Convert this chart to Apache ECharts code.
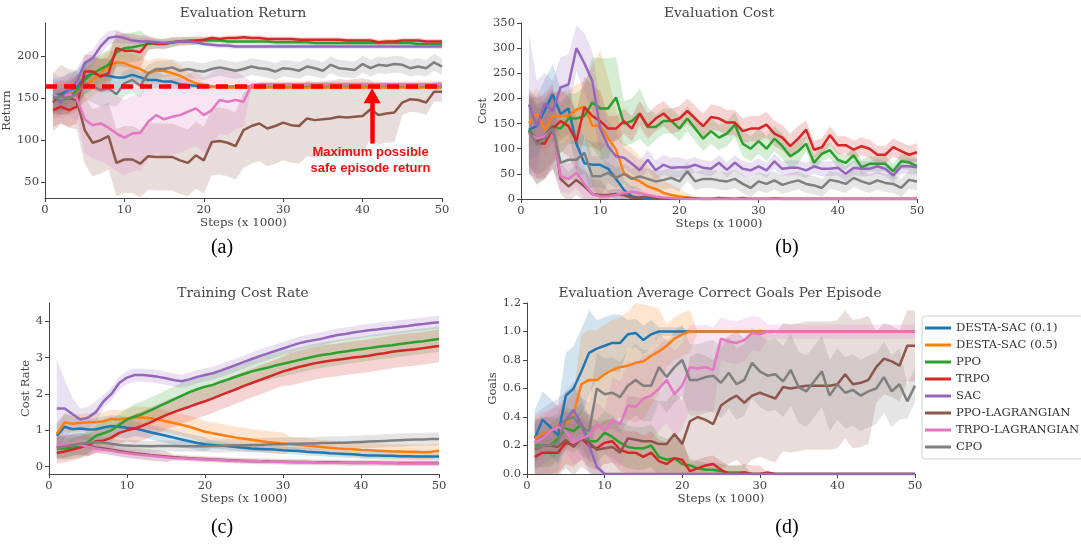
<!DOCTYPE html>
<html>
<head>
<meta charset="utf-8">
<script src="https://cdn.jsdelivr.net/npm/echarts@6.0.0/dist/echarts.min.js"></script>
<style>
  html, body { margin: 0; padding: 0; background: #fff; }
  #vis { width: 1081px; height: 544px; }
</style>
</head>
<body>
<div id="vis"></div>
<script>
// x values (steps x 1000)
const steps = [1,2,3,4,5,6,7,8,9,10,11,12,13,14,15,16,17,18,19,20,21,22,23,24,25,26,27,28,29,30,
  31,32,33,34,35,36,37,38,39,40,41,42,43,44,45,46,47,48,49,50];

const algoNames = ['DESTA-SAC (0.1)', 'DESTA-SAC (0.5)', 'PPO', 'TRPO', 'SAC', 'PPO-LAGRANGIAN', 'TRPO-LAGRANGIAN', 'CPO'];

// ---- (a) Evaluation Return ----
const returnDesta01 = [153,155,160,163,175,180,178,177,175,175, 178,175,172,172,170,170,167,166,165,164,
  164,164,164,164,164,164,164,164,164,164, 164,164,164,164,164,164,164,164,164,164, 164,164,164,164,164,164,164,164,164,164];
const returnDesta05 = [145,150,152,158,165,172,180,188,193,192, 188,185,180,183,183,180,177,172,168,166,
  164,163,163,163,163,163,163,163,163,163, 163,163,163,163,163,163,163,163,163,163, 163,163,163,163,163,163,163,163,163,163];
const returnPpo = [150,148,150,160,172,180,185,190,205,210, 211,213,215,216,215,217,218,219,219,219,
  219,219,218,218,218,218,218,218,217,217, 217,217,217,216,216,216,216,216,216,216, 216,216,216,216,216,216,215,215,215,215];
const returnTrpo = [136,140,136,140,182,182,176,180,210,207, 207,205,217,215,215,217,218,218,219,220,
  222,221,222,222,223,222,222,221,221,221, 221,220,220,220,220,220,220,219,219,219, 219,217,218,218,219,219,219,218,218,218];
const returnSac = [150,145,160,170,192,198,212,222,224,222, 219,218,218,217,216,217,218,218,217,215,
  214,213,213,212,212,212,212,212,212,212, 212,212,212,212,212,212,212,212,212,212, 212,212,212,212,212,212,212,212,212,212];
const returnPpoLag = [145,155,150,148,112,97,100,105,73,77, 77,72,81,80,80,80,76,73,82,76,
  98,99,97,93,112,117,120,114,117,121, 118,117,126,124,125,126,128,127,128,129, 137,130,132,133,145,149,148,145,158,158];
const returnTrpoLag = [155,150,155,150,125,118,120,115,108,103, 108,109,122,130,125,128,130,134,138,130,
  136,148,146,148,146,166,167,167,167,167, 167,167,167,167,167,167,167,167,167,167, 167,167,167,167,167,167,167,167,167,167];
const returnCpo = [150,152,150,155,168,165,160,162,155,168, 172,165,180,185,185,187,183,185,183,182,
  185,187,185,183,185,188,186,185,182,186, 185,183,188,186,183,190,186,185,184,191, 186,190,189,191,190,186,188,186,193,188];

const returnDesta01Std = [20,20,20,20,20,20,20,20,15,15, 10,10,10,10,8,8,6,4,3,2,
  2,2,2,2,2,2,2,2,2,2, 2,2,2,2,2,2,2,2,2,2, 2,2,2,2,2,2,2,2,2,2];
const returnDesta05Std = [20,20,20,20,20,20,20,18,15,15, 15,15,15,15,15,15,12,10,6,4,
  2,2,2,2,2,2,2,2,2,2, 2,2,2,2,2,2,2,2,2,2, 2,2,2,2,2,2,2,2,2,2];
const returnPpoStd = [18,18,18,18,18,18,18,18,18,18, 18,18,8,6,6,6,5,5,5,4,
  3,3,3,3,3,3,3,3,3,3, 3,3,3,3,3,3,3,3,3,3, 3,3,3,3,3,3,3,3,3,3];
const returnTrpoStd = [20,20,20,20,20,20,20,20,20,20, 20,20,8,6,6,6,5,5,5,4,
  3,3,3,3,3,3,3,3,3,3, 3,3,3,3,3,3,3,3,3,3, 3,3,3,3,3,3,3,3,3,3];
const returnSacStd = [15,15,15,15,10,10,10,8,8,6, 4,4,4,3,3,3,3,3,3,3,
  3,3,3,3,3,3,3,3,3,3, 3,3,3,3,3,3,3,3,3,3, 3,3,3,3,3,3,3,3,3,3];
const returnPpoLagStd = [35,35,35,35,40,40,40,40,40,40, 40,40,40,40,40,40,40,40,40,40,
  40,40,40,40,45,45,45,45,45,45, 45,45,45,45,45,45,45,45,45,45, 35,35,35,35,15,15,15,15,12,12];
const returnTrpoLagStd = [25,25,25,25,40,40,45,45,45,45, 45,45,45,45,45,45,45,45,45,45,
  45,40,40,35,30,4,3,3,3,3, 3,3,3,3,3,3,3,3,3,3, 3,3,3,3,3,3,3,3,3,3];
const returnCpoStd = [20,20,20,20,20,20,20,20,15,15, 15,15,10,10,10,10,10,10,10,10,
  10,10,10,10,10,10,10,10,10,10, 10,10,10,10,10,10,10,10,10,10, 10,10,10,10,10,10,10,10,10,10];

// ---- (b) Evaluation Cost ----
const costDesta01 = [138,145,177,208,169,180,110,71,68,68, 60,40,18,5,2,0,0,0,0,0,
  0,0,0,0,0,0,0,0,0,0, 0,0,0,0,0,0,0,0,0,0, 0,0,0,0,0,0,0,0,0,0];
const costDesta05 = [151,170,138,165,165,165,178,183,146,145, 121,98,51,42,35,25,20,12,8,5,
  3,1,0,0,0,0,0,0,0,0, 0,0,0,0,0,0,0,0,0,0, 0,0,0,0,0,0,0,0,0,0];
const costPpo = [138,118,125,145,140,160,160,165,192,180, 180,202,150,155,170,143,143,155,155,140,
  160,140,120,135,122,130,148,110,100,115, 100,120,105,85,95,110,72,90,97,78, 72,87,63,70,70,70,55,75,73,65];
const costTrpo = [135,112,110,140,155,145,115,183,165,155, 140,140,155,140,170,145,160,170,155,160,
  175,160,145,163,160,152,152,135,140,140, 148,130,122,105,120,138,98,103,127,107, 107,98,105,100,88,88,103,95,88,93];
const costSac = [188,145,190,175,222,228,300,270,235,140, 105,85,82,70,57,78,57,68,62,63,
  63,68,62,60,72,58,72,60,57,65, 57,75,60,62,62,57,65,60,60,62, 50,62,60,60,65,60,47,65,65,63];
const costPpoLag = [135,115,125,145,40,25,38,25,10,8, 8,10,8,2,3,5,2,1,0,0,
  2,1,0,0,2,1,0,2,0,0, 0,1,0,0,0,0,0,0,0,0, 0,0,0,0,0,0,0,0,0,0];
const costTrpoLag = [130,120,125,140,45,40,52,30,10,5, 5,8,12,15,12,8,5,3,2,1,
  0,0,0,0,0,0,0,0,0,0, 0,0,0,0,0,0,0,0,0,0, 0,0,0,0,0,0,0,0,0,0];
const costCpo = [135,108,120,140,72,78,78,92,45,45, 52,42,50,40,45,40,35,38,42,35,
  55,35,40,40,37,35,40,30,22,35, 30,37,28,33,37,30,27,22,38,35, 30,42,35,30,37,32,30,22,38,35];

const costDesta01Std = [60,60,60,60,50,50,50,50,45,45, 45,45,20,20,20,5,5,5,0,0,
  0,0,0,0,0,0,0,0,0,0, 0,0,0,0,0,0,0,0,0,0, 0,0,0,0,0,0,0,0,0,0];
const costDesta05Std = [50,50,50,50,50,50,50,50,120,150, 120,80,60,60,50,40,30,25,20,15,
  8,5,0,0,0,0,0,0,0,0, 0,0,0,0,0,0,0,0,0,0, 0,0,0,0,0,0,0,0,0,0];
const costPpoStd = [70,70,70,70,50,50,50,60,90,100, 100,80,45,45,50,40,25,25,25,25,
  25,25,25,25,25,25,25,25,25,25, 25,25,25,25,25,15,15,15,15,15, 15,15,15,15,15,15,15,15,15,15];
const costTrpoStd = [70,70,70,70,60,60,60,60,60,60, 25,25,25,25,25,25,25,25,25,25,
  25,25,25,25,25,25,25,25,25,25, 25,25,25,25,25,18,18,18,18,18, 18,18,18,18,18,18,18,18,18,18];
const costSacStd = [140,90,60,60,60,60,45,60,60,50, 50,50,20,20,20,20,20,20,20,20,
  15,15,15,15,15,15,15,15,15,15, 15,15,15,15,15,15,15,15,15,15, 15,15,15,15,15,15,15,15,15,15];
const costPpoLagStd = [85,85,85,85,30,30,30,30,30,30, 10,10,10,10,10,3,3,3,3,3,
  3,3,3,3,3,3,3,3,3,3, 3,3,3,3,3,3,3,3,3,3, 3,3,3,3,3,3,3,3,3,3];
const costTrpoLagStd = [80,80,80,80,30,30,30,30,30,12, 12,12,12,12,12,12,12,12,2,2,
  2,2,2,2,2,2,2,2,2,2, 2,2,2,2,2,2,2,2,2,2, 2,2,2,2,2,2,2,2,2,2];
const costCpoStd = [80,80,80,80,40,40,40,40,40,40, 20,20,20,20,20,20,20,20,20,20,
  18,18,18,18,18,18,18,18,18,18, 18,18,18,18,18,18,18,18,18,18, 18,18,18,18,18,18,18,18,18,18];

// ---- (c) Training Cost Rate ----
const rateDesta01 = [0.85,1.1,1.03,1.05,1.02,1.03,1.08,1.12,1.1,1.07, 1.05,1.0,0.95,0.9,0.85,0.8,0.75,0.7,0.65,0.62,
  0.6,0.58,0.56,0.54,0.52,0.5,0.49,0.48,0.47,0.45, 0.44,0.43,0.41,0.4,0.39,0.37,0.36,0.35,0.34,0.32,
  0.31,0.31,0.3,0.3,0.29,0.29,0.28,0.28,0.28,0.28];
const rateDesta05 = [0.9,1.22,1.18,1.2,1.22,1.22,1.25,1.32,1.3,1.33, 1.36,1.35,1.33,1.3,1.25,1.2,1.15,1.1,1.03,0.96,
  0.92,0.88,0.84,0.8,0.77,0.74,0.71,0.68,0.66,0.64, 0.62,0.6,0.58,0.56,0.54,0.52,0.5,0.49,0.48,0.46,
  0.45,0.44,0.43,0.42,0.42,0.41,0.41,0.4,0.41,0.44];
const ratePpo = [0.5,0.5,0.52,0.55,0.68,0.85,0.92,1.0,1.15,1.3, 1.38,1.45,1.55,1.65,1.75,1.85,1.95,2.05,2.13,2.2,
  2.25,2.33,2.4,2.48,2.55,2.62,2.67,2.72,2.78,2.83, 2.88,2.93,2.98,3.03,3.07,3.1,3.14,3.17,3.2,3.23,
  3.26,3.29,3.32,3.34,3.37,3.4,3.43,3.45,3.48,3.51];
const rateTrpo = [0.38,0.42,0.47,0.53,0.6,0.7,0.72,0.8,0.93,1.0, 1.05,1.13,1.22,1.32,1.42,1.5,1.58,1.65,1.73,1.8,
  1.88,1.97,2.05,2.13,2.22,2.3,2.38,2.46,2.54,2.62, 2.68,2.74,2.79,2.84,2.88,2.91,2.94,2.97,3.0,3.02,
  3.05,3.09,3.12,3.16,3.19,3.21,3.23,3.26,3.29,3.32];
const rateSac = [1.6,1.6,1.45,1.3,1.35,1.5,1.8,2.0,2.3,2.45, 2.52,2.52,2.5,2.47,2.43,2.38,2.35,2.4,2.47,2.52,
  2.57,2.64,2.72,2.8,2.88,2.96,3.04,3.11,3.18,3.25, 3.32,3.39,3.44,3.48,3.52,3.57,3.62,3.65,3.69,3.72,
  3.75,3.77,3.8,3.82,3.85,3.87,3.9,3.92,3.95,3.97];
const ratePpoLag = [0.55,0.55,0.6,0.62,0.58,0.53,0.5,0.47,0.43,0.4, 0.37,0.35,0.32,0.3,0.28,0.26,0.25,0.23,0.22,0.21,
  0.2,0.19,0.18,0.17,0.16,0.16,0.15,0.15,0.14,0.14, 0.13,0.13,0.13,0.12,0.12,0.12,0.12,0.11,0.11,0.11,
  0.11,0.11,0.1,0.1,0.1,0.1,0.1,0.1,0.1,0.1];
const rateTrpoLag = [0.6,0.62,0.62,0.6,0.55,0.5,0.47,0.44,0.4,0.37, 0.34,0.32,0.3,0.28,0.26,0.24,0.23,0.22,0.21,0.2,
  0.19,0.18,0.17,0.16,0.16,0.15,0.15,0.14,0.14,0.13, 0.13,0.12,0.12,0.12,0.11,0.11,0.11,0.11,0.1,0.1,
  0.1,0.1,0.1,0.1,0.09,0.09,0.09,0.09,0.09,0.09];
const rateCpo = [0.52,0.55,0.6,0.63,0.65,0.68,0.66,0.63,0.6,0.58, 0.57,0.57,0.56,0.57,0.57,0.57,0.56,0.56,0.56,0.56,
  0.57,0.57,0.58,0.58,0.59,0.6,0.6,0.61,0.62,0.62, 0.63,0.63,0.64,0.64,0.65,0.65,0.66,0.66,0.67,0.68,
  0.69,0.7,0.71,0.72,0.73,0.74,0.75,0.75,0.76,0.76];

const rateDesta01Std = [0.35,0.35,0.35,0.3,0.3,0.3,0.3,0.3,0.3,0.3, 0.2,0.2,0.2,0.2,0.2,0.2,0.2,0.2,0.2,0.2,
  0.1,0.1,0.1,0.1,0.1,0.1,0.1,0.1,0.1,0.1, 0.1,0.1,0.1,0.1,0.1,0.1,0.1,0.1,0.1,0.1, 0.1,0.1,0.1,0.1,0.1,0.1,0.1,0.1,0.1,0.1];
const rateDesta05Std = [0.25,0.25,0.25,0.25,0.25,0.25,0.25,0.25,0.25,0.25, 0.3,0.3,0.3,0.3,0.3,0.3,0.3,0.3,0.3,0.3,
  0.3,0.3,0.3,0.3,0.3,0.3,0.3,0.3,0.3,0.3, 0.2,0.2,0.2,0.2,0.2,0.2,0.2,0.2,0.2,0.2, 0.2,0.2,0.2,0.2,0.2,0.2,0.2,0.2,0.2,0.2];
const ratePpoStd = [0.3,0.3,0.3,0.3,0.3,0.3,0.3,0.3,0.3,0.3, 0.35,0.35,0.35,0.35,0.35,0.35,0.35,0.35,0.35,0.35,
  0.35,0.35,0.35,0.35,0.35,0.35,0.35,0.35,0.35,0.35, 0.35,0.35,0.35,0.35,0.35,0.35,0.35,0.35,0.35,0.35, 0.35,0.35,0.35,0.35,0.35,0.35,0.35,0.35,0.35,0.35];
const rateTrpoStd = [0.3,0.3,0.3,0.3,0.3,0.3,0.3,0.3,0.3,0.3, 0.4,0.4,0.4,0.4,0.4,0.4,0.4,0.4,0.4,0.4,
  0.4,0.4,0.4,0.4,0.4,0.4,0.4,0.4,0.4,0.4, 0.45,0.45,0.45,0.45,0.45,0.45,0.45,0.45,0.45,0.45, 0.45,0.45,0.45,0.45,0.45,0.45,0.45,0.45,0.45,0.45];
const rateSacStd = [1.35,0.8,0.45,0.3,0.3,0.3,0.18,0.18,0.18,0.18, 0.18,0.18,0.18,0.18,0.18,0.18,0.18,0.18,0.18,0.18,
  0.18,0.18,0.18,0.18,0.18,0.18,0.18,0.18,0.18,0.18, 0.18,0.18,0.18,0.18,0.18,0.18,0.18,0.18,0.18,0.18, 0.18,0.18,0.18,0.18,0.18,0.18,0.18,0.18,0.18,0.18];
const ratePpoLagStd = [0.3,0.3,0.3,0.3,0.3,0.15,0.15,0.15,0.15,0.15, 0.15,0.15,0.15,0.15,0.15,0.08,0.08,0.08,0.08,0.08,
  0.08,0.08,0.08,0.08,0.08,0.08,0.08,0.08,0.08,0.08, 0.08,0.08,0.08,0.08,0.08,0.08,0.08,0.08,0.08,0.08, 0.08,0.08,0.08,0.08,0.08,0.08,0.08,0.08,0.08,0.08];
const rateTrpoLagStd = [0.25,0.25,0.25,0.25,0.25,0.12,0.12,0.12,0.12,0.12, 0.12,0.12,0.12,0.12,0.12,0.06,0.06,0.06,0.06,0.06,
  0.06,0.06,0.06,0.06,0.06,0.06,0.06,0.06,0.06,0.06, 0.06,0.06,0.06,0.06,0.06,0.06,0.06,0.06,0.06,0.06, 0.06,0.06,0.06,0.06,0.06,0.06,0.06,0.06,0.06,0.06];
const rateCpoStd = [0.3,0.3,0.3,0.3,0.3,0.15,0.15,0.15,0.15,0.15, 0.15,0.15,0.15,0.15,0.15,0.15,0.15,0.15,0.15,0.15,
  0.18,0.18,0.18,0.18,0.18,0.18,0.18,0.18,0.18,0.18, 0.18,0.18,0.18,0.18,0.18,0.18,0.18,0.18,0.18,0.18, 0.18,0.18,0.18,0.18,0.18,0.18,0.18,0.18,0.18,0.18];

// ---- (d) Evaluation Average Correct Goals Per Episode ----
const goalsDesta01 = [0.25,0.38,0.33,0.27,0.55,0.6,0.72,0.85,0.88,0.9, 0.92,0.92,0.98,0.99,0.94,0.98,1,1,1,1,
  1,1,1,1,1,1,1,1,1,1, 1,1,1,1,1,1,1,1,1,1, 1,1,1,1,1,1,1,1,1,1];
const goalsDesta05 = [0.25,0.28,0.3,0.34,0.35,0.42,0.63,0.66,0.66,0.7, 0.73,0.75,0.76,0.78,0.79,0.83,0.86,0.9,0.95,0.98,
  1,1,1,1,1,1,1,1,1,1, 1,1,1,1,1,1,1,1,1,1, 1,1,1,1,1,1,1,1,1,1];
const goalsPpo = [0.2,0.2,0.2,0.25,0.32,0.3,0.35,0.23,0.23,0.29, 0.26,0.22,0.19,0.18,0.18,0.2,0.12,0.1,0.11,0.07,
  0.06,0.04,0.03,0.03,0.02,0.01,0.01,0.01,0,0, 0,0,0,0,0,0,0,0,0,0, 0,0,0,0,0,0,0,0,0,0];
const goalsTrpo = [0.12,0.15,0.15,0.15,0.22,0.2,0.25,0.2,0.18,0.22, 0.23,0.17,0.15,0.15,0.12,0.15,0.09,0.07,0.11,0.1,
  0.02,0.04,0.06,0.07,0.03,0,0,0.01,0,0, 0.01,0,0,0,0,0,0,0,0,0, 0,0,0,0,0,0,0,0,0,0];
const goalsSac = [0.22,0.26,0.3,0.33,0.38,0.45,0.35,0.2,0.05,0, 0,0,0,0,0,0,0,0,0,0,
  0,0,0,0,0,0,0,0,0,0, 0,0,0,0,0,0,0,0,0,0, 0,0,0,0,0,0,0,0,0,0];
const goalsPpoLag = [0.17,0.2,0.2,0.19,0.24,0.19,0.25,0.22,0.17,0.18, 0.19,0.15,0.25,0.24,0.23,0.23,0.21,0.21,0.28,0.21,
  0.37,0.4,0.38,0.35,0.48,0.52,0.55,0.5,0.55,0.57, 0.55,0.53,0.61,0.6,0.61,0.62,0.62,0.62,0.62,0.63,
  0.7,0.63,0.64,0.66,0.75,0.81,0.79,0.76,0.9,0.9];
const goalsTrpoLag = [0.22,0.25,0.3,0.33,0.3,0.22,0.25,0.27,0.35,0.3, 0.38,0.35,0.48,0.47,0.53,0.55,0.6,0.66,0.56,0.62,
  0.75,0.74,0.75,0.73,0.95,0.93,0.92,0.94,0.99,0.98, 1,1,1,1,1,1,1,1,1,1, 1,1,1,1,1,1,1,1,1,1];
const goalsCpo = [0.18,0.2,0.2,0.22,0.38,0.4,0.33,0.3,0.6,0.56, 0.57,0.54,0.62,0.66,0.62,0.62,0.75,0.68,0.75,0.8,
  0.66,0.66,0.68,0.69,0.64,0.71,0.63,0.66,0.78,0.72, 0.69,0.7,0.65,0.73,0.61,0.58,0.65,0.72,0.55,0.63,
  0.57,0.59,0.55,0.58,0.6,0.68,0.58,0.63,0.51,0.62];

const goalsDesta01Std = [0.2,0.2,0.2,0.2,0.3,0.3,0.3,0.3,0.2,0.2, 0.2,0.2,0.1,0.1,0.1,0.1,0.03,0.03,0.03,0.03,
  0,0,0,0,0,0,0,0,0,0, 0,0,0,0,0,0,0,0,0,0, 0,0,0,0,0,0,0,0,0,0];
const goalsDesta05Std = [0.15,0.15,0.15,0.15,0.15,0.15,0.35,0.35,0.35,0.35, 0.35,0.35,0.38,0.42,0.4,0.35,0.3,0.15,0.15,0.15,
  0.15,0,0,0,0,0,0,0,0,0, 0,0,0,0,0,0,0,0,0,0, 0,0,0,0,0,0,0,0,0,0];
const goalsPpoStd = [0.15,0.15,0.15,0.15,0.15,0.15,0.15,0.15,0.15,0.15, 0.15,0.15,0.15,0.15,0.15,0.15,0.15,0.15,0.15,0.15,
  0.05,0.05,0.05,0.05,0.05,0.05,0.05,0.05,0,0, 0,0,0,0,0,0,0,0,0,0, 0,0,0,0,0,0,0,0,0,0];
const goalsTrpoStd = [0.15,0.15,0.15,0.15,0.15,0.15,0.15,0.15,0.15,0.15, 0.15,0.15,0.15,0.15,0.15,0.15,0.15,0.15,0.15,0.15,
  0.06,0.06,0.06,0.06,0.06,0.06,0.06,0.06,0.06,0.06, 0,0,0,0,0,0,0,0,0,0, 0,0,0,0,0,0,0,0,0,0];
const goalsSacStd = [0.2,0.2,0.2,0.2,0.2,0.2,0.2,0.2,0.1,0, 0,0,0,0,0,0,0,0,0,0,
  0,0,0,0,0,0,0,0,0,0, 0,0,0,0,0,0,0,0,0,0, 0,0,0,0,0,0,0,0,0,0];
const goalsPpoLagStd = [0.2,0.2,0.2,0.2,0.2,0.2,0.2,0.2,0.2,0.2, 0.2,0.2,0.3,0.3,0.3,0.3,0.3,0.3,0.3,0.3,
  0.45,0.45,0.45,0.45,0.45,0.45,0.45,0.45,0.45,0.45, 0.45,0.45,0.45,0.45,0.45,0.45,0.45,0.45,0.45,0.45,
  0.45,0.45,0.45,0.45,0.25,0.25,0.25,0.25,0.25,0.25];
const goalsTrpoLagStd = [0.15,0.15,0.15,0.15,0.15,0.15,0.15,0.15,0.15,0.15, 0.3,0.3,0.3,0.3,0.3,0.3,0.3,0.3,0.3,0.3,
  0.3,0.3,0.3,0.3,0.15,0.15,0.15,0.15,0.12,0.12, 0.05,0.05,0.05,0.05,0.05,0.05,0.05,0.05,0.05,0.05, 0.05,0.05,0.05,0.05,0.05,0.05,0.05,0.05,0.05,0.05];
const goalsCpoStd = [0.2,0.2,0.2,0.2,0.2,0.2,0.2,0.2,0.25,0.25, 0.25,0.25,0.25,0.25,0.25,0.25,0.25,0.25,0.25,0.25,
  0.25,0.25,0.25,0.25,0.25,0.25,0.25,0.25,0.25,0.25, 0.25,0.25,0.25,0.25,0.25,0.25,0.25,0.25,0.25,0.25,
  0.25,0.25,0.25,0.25,0.25,0.25,0.25,0.25,0.12,0.12];

// safe return annotation level
const safeReturn = 165;

// ---- styling ----
const colors = ['#1f77b4', '#ff7f0e', '#2ca02c', '#d62728', '#9467bd', '#8c564b', '#e377c2', '#7f7f7f'];
const bandColors = colors.map(c => {
  const n = parseInt(c.slice(1), 16);
  return 'rgba(' + (n >> 16) + ',' + ((n >> 8) & 255) + ',' + (n & 255) + ',0.2)';
});
const serif = 'DejaVu Serif';
const axisColor = '#444';

const panels = [
  { means: [returnDesta01, returnDesta05, returnPpo, returnTrpo, returnSac, returnPpoLag, returnTrpoLag, returnCpo],
    stds: [returnDesta01Std, returnDesta05Std, returnPpoStd, returnTrpoStd, returnSacStd, returnPpoLagStd, returnTrpoLagStd, returnCpoStd] },
  { means: [costDesta01, costDesta05, costPpo, costTrpo, costSac, costPpoLag, costTrpoLag, costCpo],
    stds: [costDesta01Std, costDesta05Std, costPpoStd, costTrpoStd, costSacStd, costPpoLagStd, costTrpoLagStd, costCpoStd] },
  { means: [rateDesta01, rateDesta05, ratePpo, rateTrpo, rateSac, ratePpoLag, rateTrpoLag, rateCpo],
    stds: [rateDesta01Std, rateDesta05Std, ratePpoStd, rateTrpoStd, rateSacStd, ratePpoLagStd, rateTrpoLagStd, rateCpoStd] },
  { means: [goalsDesta01, goalsDesta05, goalsPpo, goalsTrpo, goalsSac, goalsPpoLag, goalsTrpoLag, goalsCpo],
    stds: [goalsDesta01Std, goalsDesta05Std, goalsPpoStd, goalsTrpoStd, goalsSacStd, goalsPpoLagStd, goalsTrpoLagStd, goalsCpoStd] }
];

const grids = [
  { left: 45, top: 23, width: 397, height: 175 },
  { left: 521, top: 23, width: 396, height: 176 },
  { left: 49, top: 303, width: 390, height: 171 },
  { left: 527, top: 303, width: 388, height: 171 }
];

function makeX(i) {
  return {
    type: 'value', gridIndex: i, min: 0, max: 50, interval: 10,
    name: 'Steps (x 1000)', nameLocation: 'middle', nameGap: 18,
    nameTextStyle: { fontFamily: serif, fontSize: 11.8, color: axisColor },
    axisLine: { show: true, onZero: false, lineStyle: { color: axisColor, width: 1 } },
    axisTick: { show: true, length: 4, lineStyle: { color: axisColor } },
    axisLabel: { fontFamily: serif, fontSize: 11.5, color: axisColor, margin: 6 },
    splitLine: { show: false }
  };
}

function makeY(i, name, min, max, ticks, gap, fmt) {
  return {
    type: 'value', gridIndex: i, min: min, max: max,
    name: name, nameLocation: 'middle', nameGap: gap,
    nameTextStyle: { fontFamily: serif, fontSize: 11.5, color: axisColor },
    axisLine: { show: true, lineStyle: { color: axisColor, width: 1 } },
    axisTick: { show: true, length: 4, lineStyle: { color: axisColor }, customValues: ticks },
    axisLabel: { fontFamily: serif, fontSize: 11.5, color: axisColor, margin: 6, customValues: ticks,
      formatter: fmt || (v => String(v)) },
    splitLine: { show: false }
  };
}

function pairs(arr) {
  return steps.map((s, i) => [s, arr[i]]);
}

function bandSeries(g, mean, std, fill) {
  return {
    type: 'custom', xAxisIndex: g, yAxisIndex: g, clip: true, silent: true, z: 1,
    data: pairs(mean), encode: { x: 0, y: 1 },
    renderItem: function (params, api) {
      if (params.dataIndex !== 0) return null;
      const up = steps.map((s, i) => api.coord([s, mean[i] + std[i]]));
      const lo = steps.map((s, i) => api.coord([s, mean[i] - std[i]])).reverse();
      return { type: 'polygon', shape: { points: up.concat(lo) }, style: { fill: fill } };
    }
  };
}

const series = [];
panels.forEach((p, g) => {
  p.means.forEach((m, k) => series.push(bandSeries(g, m, p.stds[k], bandColors[k])));
});
panels.forEach((p, g) => {
  p.means.forEach((m, k) => {
    series.push({
      type: 'line', name: algoNames[k], xAxisIndex: g, yAxisIndex: g,
      data: pairs(m), showSymbol: false, z: 2, silent: true,
      lineStyle: { color: colors[k], width: 2.5 }, itemStyle: { color: colors[k] }
    });
  });
});

// dashed "max safe return" line, arrow and label on panel (a)
series.push({
  type: 'line', xAxisIndex: 0, yAxisIndex: 0, data: [], z: 5, silent: true,
  markLine: {
    silent: true, symbol: ['none', 'none'], label: { show: false },
    lineStyle: { color: '#ff0000', width: 4.5, type: 'solid' },
    data: [
      { yAxis: safeReturn, lineStyle: { color: '#ff0000', width: 4.5, type: [12, 7] } },
      [ { coord: [41.2, 96], symbol: 'none' },
        { coord: [41.2, 153], symbol: 'triangle', symbolSize: [17, 15] } ]
    ]
  },
  markPoint: {
    silent: true,
    data: [{ coord: [41, 76], symbol: 'circle', symbolSize: 0,
      label: { show: true, position: 'inside', formatter: 'Maximum possible\nsafe episode return',
        color: '#ee1111', fontWeight: 'bold', fontSize: 13, lineHeight: 16, fontFamily: 'Liberation Sans' } }]
  }
});

function txt(x, y, text, font, fill) {
  return { type: 'text', x: x, y: y, silent: true,
    style: { text: text, font: font, fill: fill, textAlign: 'center', textVerticalAlign: 'middle',
      align: 'center', verticalAlign: 'middle' } };
}

const titleFont = '13.7px "DejaVu Serif"';
const capFont = '20px "Liberation Serif"';

const option = {
  animation: false,
  backgroundColor: '#fff',
  grid: grids,
  xAxis: [makeX(0), makeX(1), makeX(2), makeX(3)],
  yAxis: [
    makeY(0, 'Return', 31, 240, [50, 100, 150, 200], 29),
    makeY(1, 'Cost', 0, 350, [0, 50, 100, 150, 200, 250, 300, 350], 30),
    makeY(2, 'Cost Rate', -0.2, 4.5, [0, 1, 2, 3, 4], 14),
    makeY(3, 'Goals', 0, 1.2, [0, 0.2, 0.4, 0.6, 0.8, 1.0, 1.2], 25, v => v.toFixed(1))
  ],
  legend: {
    orient: 'vertical', left: 922, top: 316,
    data: algoNames, icon: 'rect', itemWidth: 26, itemHeight: 3, itemGap: 3,
    padding: [5, 4, 5, 3],
    backgroundColor: '#fff', borderColor: '#d0d0d0', borderWidth: 1, borderRadius: 3,
    textStyle: { fontFamily: serif, fontSize: 11.6, color: '#333', lineHeight: 14 },
    selectedMode: false
  },
  graphic: [
    txt(243, 13, 'Evaluation Return', titleFont, axisColor),
    txt(719, 13, 'Evaluation Cost', titleFont, axisColor),
    txt(243, 293, 'Training Cost Rate', titleFont, axisColor),
    txt(720, 293, 'Evaluation Average Correct Goals Per Episode', titleFont, axisColor),
    txt(222, 248, '(a)', capFont, '#000'),
    txt(787, 248, '(b)', capFont, '#000'),
    txt(222, 528, '(c)', capFont, '#000'),
    txt(787, 528, '(d)', capFont, '#000')
  ],
  series: series
};

const chart = echarts.init(document.getElementById('vis'), null, { renderer: 'canvas' });
chart.setOption(option);
</script>
</body>
</html>
